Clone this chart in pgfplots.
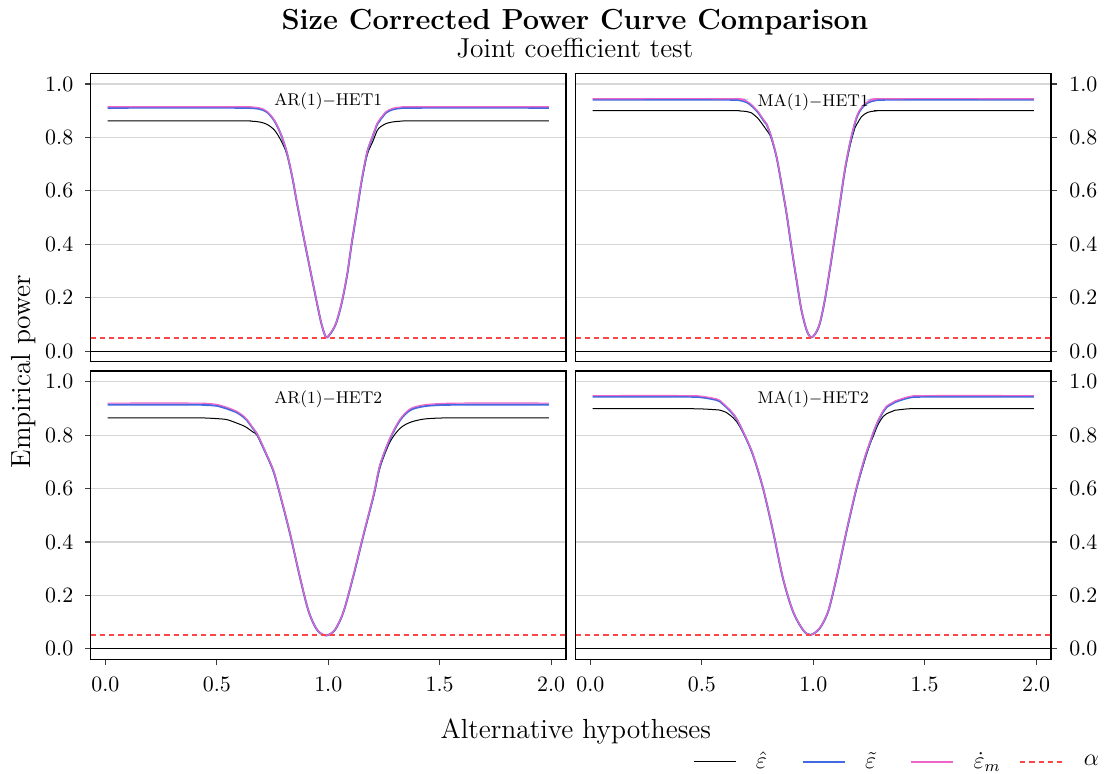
\documentclass[border=0pt]{standalone}
\usepackage{pgfplots}
\usepackage{pgfplotstable}
\pgfplotsset{compat=1.18}
\usepgfplotslibrary{groupplots}
\usetikzlibrary{calc}
\definecolor{cblue}{RGB}{65,105,225}
\definecolor{cpink}{RGB}{238,100,200}
\definecolor{cred}{RGB}{255,70,70}
\definecolor{cgrid}{RGB}{214,214,214}
\definecolor{ctick}{RGB}{60,60,60}

% x  b (hat eps)  t (tilde eps)  m (dot eps_m)
\pgfplotstableread{
x b t m
0.01 0.862 0.911 0.915
0.60 0.862 0.911 0.915
0.65 0.861 0.910 0.914
0.69 0.858 0.907 0.911
0.725 0.849 0.895 0.898
0.76 0.826 0.860 0.862
0.79 0.785 0.806 0.808
0.815 0.735 0.740 0.742
0.84 0.645 0.645 0.647
0.86 0.552 0.553 0.555
0.89 0.425 0.425 0.427
0.92 0.300 0.300 0.302
0.95 0.176 0.177 0.178
0.97 0.100 0.100 0.101
0.99 0.052 0.052 0.052
1.01 0.065 0.066 0.067
1.035 0.103 0.104 0.105
1.06 0.178 0.179 0.181
1.085 0.285 0.286 0.288
1.105 0.400 0.402 0.404
1.13 0.530 0.532 0.535
1.15 0.635 0.638 0.641
1.175 0.735 0.745 0.748
1.20 0.785 0.805 0.808
1.22 0.826 0.850 0.853
1.235 0.840 0.868 0.872
1.26 0.852 0.893 0.897
1.29 0.858 0.905 0.909
1.33 0.861 0.910 0.914
1.40 0.862 0.911 0.915
1.99 0.862 0.911 0.915
}\tTL

\pgfplotstableread{
x b t m
0.01 0.900 0.941 0.945
0.62 0.900 0.941 0.945
0.67 0.899 0.939 0.943
0.70 0.897 0.932 0.936
0.72 0.893 0.921 0.925
0.75 0.873 0.896 0.899
0.78 0.840 0.860 0.863
0.79 0.828 0.850 0.852
0.81 0.800 0.806 0.808
0.835 0.726 0.728 0.730
0.857 0.627 0.628 0.630
0.88 0.515 0.516 0.518
0.902 0.389 0.390 0.392
0.925 0.265 0.266 0.268
0.947 0.153 0.154 0.155
0.97 0.078 0.079 0.080
0.99 0.051 0.051 0.051
1.01 0.065 0.066 0.067
1.03 0.104 0.105 0.106
1.052 0.190 0.191 0.193
1.074 0.301 0.303 0.305
1.097 0.426 0.428 0.431
1.12 0.552 0.555 0.558
1.142 0.674 0.678 0.681
1.165 0.768 0.778 0.781
1.187 0.835 0.853 0.856
1.20 0.855 0.885 0.889
1.217 0.878 0.909 0.913
1.245 0.894 0.930 0.934
1.28 0.899 0.939 0.943
1.33 0.900 0.941 0.945
1.99 0.900 0.941 0.945
}\tTR

\pgfplotstableread{
x b t m
0.01 0.865 0.914 0.920
0.40 0.865 0.914 0.920
0.45 0.864 0.913 0.919
0.50 0.862 0.910 0.915
0.546 0.858 0.899 0.904
0.59 0.845 0.885 0.889
0.62 0.835 0.868 0.872
0.635 0.828 0.856 0.859
0.665 0.810 0.822 0.824
0.68 0.800 0.805 0.807
0.717 0.736 0.738 0.740
0.755 0.661 0.663 0.665
0.792 0.550 0.551 0.553
0.83 0.425 0.426 0.428
0.874 0.265 0.264 0.266
0.912 0.140 0.140 0.141
0.95 0.071 0.071 0.072
0.99 0.050 0.050 0.050
1.03 0.071 0.071 0.072
1.069 0.140 0.140 0.141
1.114 0.276 0.277 0.279
1.158 0.424 0.426 0.428
1.204 0.572 0.576 0.579
1.233 0.680 0.688 0.691
1.278 0.776 0.788 0.791
1.323 0.826 0.857 0.861
1.368 0.848 0.894 0.899
1.427 0.860 0.908 0.913
1.50 0.864 0.913 0.918
1.60 0.865 0.914 0.920
1.99 0.865 0.914 0.920
}\tBL

\pgfplotstableread{
x b t m
0.01 0.899 0.944 0.948
0.43 0.899 0.944 0.948
0.505 0.898 0.941 0.945
0.565 0.895 0.932 0.936
0.58 0.894 0.927 0.931
0.61 0.885 0.905 0.908
0.625 0.876 0.893 0.896
0.655 0.852 0.862 0.864
0.692 0.798 0.800 0.802
0.73 0.724 0.725 0.727
0.775 0.600 0.600 0.602
0.82 0.438 0.438 0.440
0.864 0.264 0.264 0.266
0.909 0.140 0.140 0.141
0.954 0.071 0.071 0.072
0.987 0.052 0.052 0.052
1.029 0.077 0.077 0.078
1.067 0.140 0.140 0.141
1.104 0.263 0.264 0.266
1.149 0.437 0.439 0.441
1.194 0.598 0.601 0.604
1.231 0.705 0.713 0.716
1.254 0.765 0.770 0.773
1.269 0.795 0.807 0.810
1.291 0.840 0.852 0.855
1.314 0.870 0.888 0.892
1.329 0.880 0.905 0.909
1.366 0.893 0.923 0.927
1.374 0.894 0.926 0.930
1.434 0.899 0.941 0.945
1.509 0.899 0.944 0.948
1.99 0.899 0.944 0.948
}\tBR

\pgfplotsset{
  panel/.style={
    scale only axis,
    width=237.6pt, height=144.2pt,
    xmin=-0.066, xmax=2.067, ymin=-0.04, ymax=1.04,
    ytick={0,0.2,0.4,0.6,0.8,1.0},
    xtick={0,0.5,1,1.5,2},
    ymajorgrids, xmajorgrids=false,
    grid style={cgrid, line width=0.55pt},
    axis line style={black, line width=0.65pt},
    tick style={ctick, line width=0.55pt},
    tick align=outside, major tick length=2.85pt,
    ticklabel style={font=\fontsize{11}{13}\selectfont, inner sep=0pt},
    x tick label style={/pgf/number format/.cd, fixed, fixed zerofill, precision=1, /tikz/.cd, yshift=1pt},
    y tick label style={/pgf/number format/.cd, fixed, fixed zerofill, precision=1, /tikz/.cd},
    yticklabel shift=6.9pt,
    xticklabel shift=6.7pt,
    xtick pos=bottom,
    clip=false,
  },
  leftp/.style={ytick pos=left, yticklabel pos=left, y tick label style={xshift=1.2pt}},
  rightp/.style={ytick pos=right, yticklabel pos=right, y tick label style={xshift=-0.8pt}},
  alphastyle/.style={draw=cred, color=cred, line width=1pt, dash pattern=on 2.6pt off 2pt},
}

\newcommand{\refl}{%
  \addplot[black, line width=0.5pt, forget plot] coordinates {(-0.066,0) (2.067,0)};
}
\newcommand{\alphaline}{%
  \addplot[alphastyle, forget plot] coordinates {(-0.066,0.05) (2.067,0.05)};
}
\newcommand{\curves}[1]{%
  \addplot[black, line width=0.5pt, smooth, tension=0.5, forget plot] table[x=x,y=b]{#1};
  \addplot[cblue, line width=1.0pt, smooth, tension=0.5, forget plot] table[x=x,y=t]{#1};
  \addplot[cpink, line width=0.6pt, smooth, tension=0.5, forget plot] table[x=x,y=m]{#1};
}

\begin{document}
\begin{tikzpicture}
\begin{groupplot}[
  group style={group size=2 by 2, horizontal sep=4.85pt, vertical sep=4.65pt},
  panel
]
\nextgroupplot[leftp, xtick=\empty]
\refl \curves{\tTL} \alphaline
\node[font=\fontsize{8.5}{10}\selectfont] at (axis cs:1.0,0.935) {AR(1)$-$HET1};

\nextgroupplot[rightp, xtick=\empty]
\refl \curves{\tTR} \alphaline
\node[font=\fontsize{8.5}{10}\selectfont] at (axis cs:1.0,0.932) {MA(1)$-$HET1};

\nextgroupplot[leftp]
\refl \curves{\tBL} \alphaline
\node[font=\fontsize{8.5}{10}\selectfont] at (axis cs:1.0,0.936) {AR(1)$-$HET2};

\nextgroupplot[rightp,
  legend columns=4,
  legend style={at={(0.2474,-0.355)}, anchor=west, draw=none, fill=none,
    inner sep=0pt, outer sep=0pt, nodes={inner sep=0pt},
    font=\fontsize{12}{14}\selectfont},
  legend cell align=left,
  legend image code/.code={\draw[#1] (0pt,0pt) -- (21pt,0pt);}
]
\refl
\addplot[black, line width=0.5pt, smooth, tension=0.5] table[x=x,y=b]{\tBR};
\addlegendentry{\hspace{9.8pt}\makebox[22.8pt][l]{$\hat{\varepsilon}$}}
\addplot[cblue, line width=1.0pt, smooth, tension=0.5] table[x=x,y=t]{\tBR};
\addlegendentry{\hspace{9.8pt}\makebox[22.8pt][l]{$\tilde{\varepsilon}$}}
\addplot[cpink, line width=0.6pt, smooth, tension=0.5] table[x=x,y=m]{\tBR};
\addlegendentry{\hspace{9.8pt}\makebox[22.8pt][l]{$\dot{\varepsilon}_m$}}
\addplot[alphastyle] coordinates {(-0.066,0.05) (2.067,0.05)};
\addlegendentry{\hspace{10.3pt}$\alpha$}
\node[font=\fontsize{8.5}{10}\selectfont] at (axis cs:1.0,0.934) {MA(1)$-$HET2};
\end{groupplot}

\coordinate (NW) at (group c1r1.north west);
\coordinate (SE) at (group c2r2.south east);
\coordinate (NE) at (group c2r1.north east);
% titles
\node[font=\fontsize{14.5}{17}\selectfont\bfseries, anchor=base] at ($(NW)!0.5!(NE)+(2pt,21.65pt)$) {Size Corrected Power Curve Comparison};
\node[font=\fontsize{13.7}{16}\selectfont, anchor=base] at ($(NW)!0.5!(NE)+(2pt,7.65pt)$) {Joint coefficient test};
% axis labels
\node[font=\fontsize{13.8}{16}\selectfont, anchor=center] at ($(group c1r2.south west)!0.5!(SE)+(2.5pt,-35.85pt)$) {Alternative hypotheses};
\node[font=\fontsize{13.8}{16}\selectfont, anchor=base, rotate=90] at ($(NW)!0.5!(group c1r2.south west)+(-30.35pt,-2.6pt)$) {Empirical power};
% page frame
\path ($(NW)+(-45.35pt,36.65pt)$) rectangle ($(SE)+(28pt,-56.85pt)$);
\end{tikzpicture}
\end{document}
